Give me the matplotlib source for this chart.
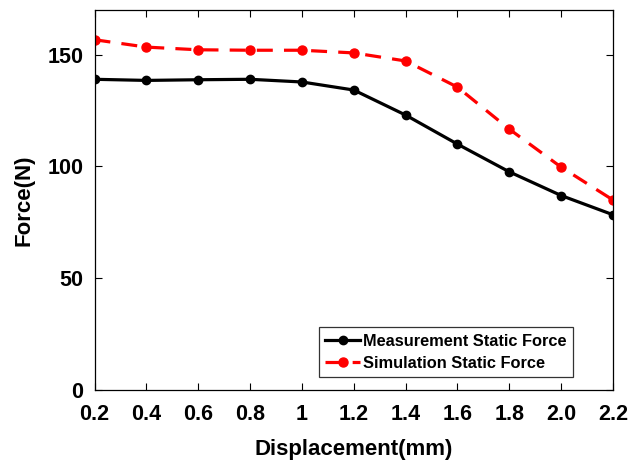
import matplotlib
matplotlib.use("Agg")
import matplotlib.pyplot as plt

# displacement (mm) and forces (N)
displacement = [0.2, 0.4, 0.6, 0.8, 1.0, 1.2, 1.4, 1.6, 1.8, 2.0, 2.2]
measured = [139.0, 138.5, 138.8, 139.0, 137.8, 134.2, 123.0, 110.0, 97.6, 87.0, 78.4]
simulated = [156.7, 153.4, 152.2, 152.0, 152.0, 150.8, 147.2, 135.5, 116.7, 99.7, 85.0]
xtick_labels = ["0.2", "0.4", "0.6", "0.8", "1", "1.2", "1.4", "1.6", "1.8", "2.0", "2.2"]
yticks = [0, 50, 100, 150]

plt.rcParams['font.family'] = ['Liberation Sans', 'DejaVu Sans']
plt.rcParams['font.weight'] = 'bold'

fig = plt.figure(figsize=(6.3, 4.63), dpi=100)
ax = fig.add_axes([94.5 / 630, 1 - 390 / 463, (613 - 94.5) / 630, 380 / 463])

ax.plot(displacement, measured, color='black', lw=2.3, marker='o', ms=6,
        label='Measurement Static Force')
ax.plot(displacement, simulated, color='red', lw=2.3, marker='o', ms=6.5,
        dashes=(5, 3.5), label='Simulation Static Force')

ax.set_xlim(0.2, 2.2)
ax.set_ylim(0, 170)
ax.set_xticks(displacement)
ax.set_xticklabels(xtick_labels)
ax.set_yticks(yticks)
ax.tick_params(direction='in', top=True, right=True, length=5, width=0.8,
               labelsize=15.5)
ax.tick_params(axis='x', pad=10)
ax.tick_params(axis='y', pad=8)
for lab in ax.get_xticklabels() + ax.get_yticklabels():
    lab.set_fontweight('bold')
for s in ax.spines.values():
    s.set_linewidth(0.9)

ax.set_xlabel('Displacement(mm)', fontsize=16, fontweight='bold', labelpad=10)
ax.set_ylabel('Force(N)', fontsize=16, fontweight='bold', labelpad=9)

leg = ax.legend(loc='lower right', bbox_to_anchor=(0.923, 0.034), borderaxespad=0,
                frameon=True, fancybox=False, edgecolor='black',
                handlelength=2.1, handletextpad=0.2, borderpad=0.4,
                labelspacing=0.42, prop={'weight': 'bold', 'size': 11.8})
leg.get_frame().set_linewidth(0.9)

fig.savefig('out.png', dpi=100)
